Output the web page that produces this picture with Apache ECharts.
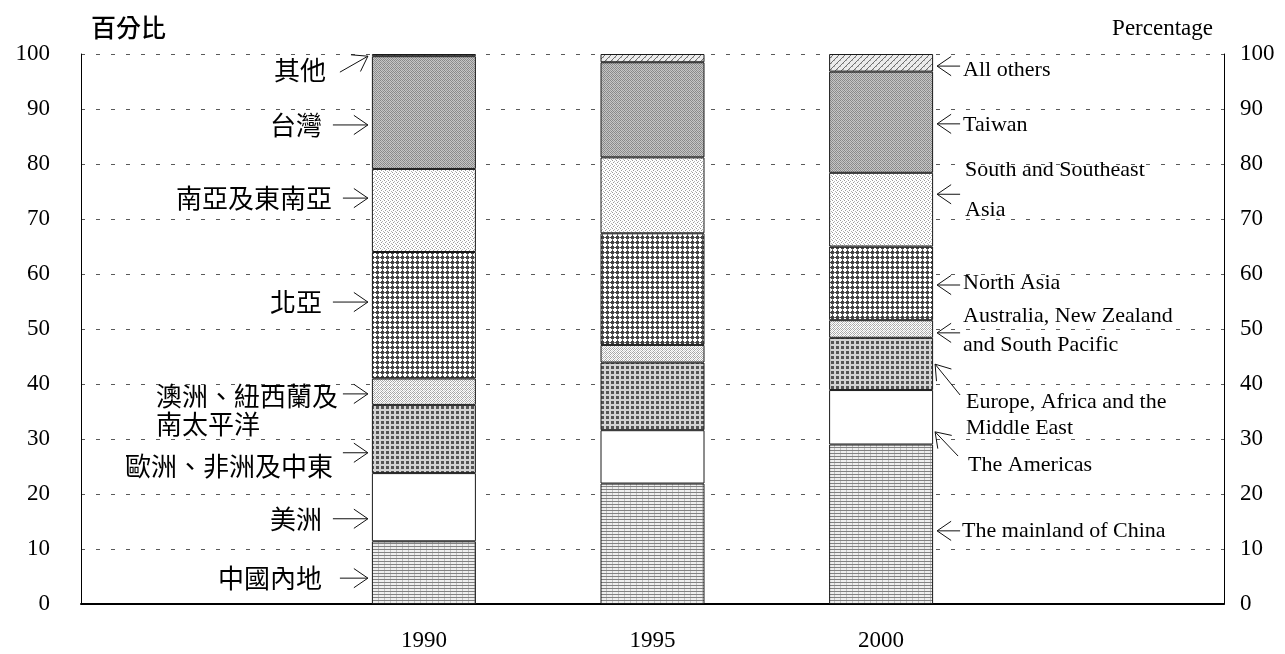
<!DOCTYPE html>
<html>
<head>
<meta charset="utf-8">
<script src="https://cdn.jsdelivr.net/npm/echarts@6/dist/echarts.min.js"></script>
<style>
html, body { margin: 0; padding: 0; background: #fff; }
#chart { width: 1285px; height: 654px; }
</style>
</head>
<body>
<div id="chart"></div>
<script>
// Share of total by region, per year (percent, stacked bottom to top)
const years = ['1990', '1995', '2000'];
const mainland  = [11.4, 21.9, 29.0];
const americas  = [12.4,  9.7,  9.9];
const europe    = [12.4, 12.3,  9.5];
const australia = [ 4.8,  3.2,  3.2];
const northAsia = [23.0, 20.3, 13.4];
const southAsia = [15.1, 13.8, 13.4];
const taiwan    = [20.5, 17.3, 18.4];
const others    = [ 0.4,  1.5,  3.2];

const yMin = 0, yMax = 100, yStep = 10;

const SERIF = 'Liberation Serif, Times New Roman, serif';
const CJK = 'Noto Sans CJK TC, Noto Sans CJK SC, sans-serif';

// Small canvas tiles used as monochrome fill patterns
function tile(w, h, draw) {
  const c = document.createElement('canvas');
  c.width = w; c.height = h;
  const g = c.getContext('2d');
  draw(g);
  return { image: c, repeat: 'repeat' };
}
function px(g, col, x, y, w, h) { g.fillStyle = col; g.fillRect(x, y, w || 1, h || 1); }

const fills = {
  mainland: tile(6, 3, g => {
    px(g, '#eeeeee', 0, 0, 6, 3);
    px(g, '#808080', 0, 0, 6, 1);
    px(g, '#c0c0c0', 0, 1, 1, 2);
  }),
  americas: '#ffffff',
  europe: tile(5, 5, g => {
    px(g, '#d4d4d4', 0, 0, 5, 5);
    px(g, '#555555', 1, 1, 3, 3);
  }),
  australia: tile(4, 4, g => {
    px(g, '#ffffff', 0, 0, 4, 4);
    px(g, '#a8a8a8', 0, 0); px(g, '#a8a8a8', 2, 0);
    px(g, '#a8a8a8', 1, 1); px(g, '#a8a8a8', 3, 1);
    px(g, '#d0d0d0', 0, 2); px(g, '#a8a8a8', 2, 2);
    px(g, '#a8a8a8', 1, 3); px(g, '#d0d0d0', 3, 3);
  }),
  northAsia: tile(5, 5, g => {
    px(g, '#ffffff', 0, 0, 5, 5);
    px(g, '#454545', 1, 1, 3, 3);
    px(g, '#454545', 2, 0); px(g, '#454545', 0, 2);
    px(g, '#7a7a7a', 4, 2); px(g, '#7a7a7a', 2, 4);
  }),
  southAsia: tile(4, 4, g => {
    px(g, '#ffffff', 0, 0, 4, 4);
    px(g, '#9a9a9a', 0, 0); px(g, '#b5b5b5', 2, 1);
    px(g, '#9a9a9a', 1, 2); px(g, '#b5b5b5', 3, 3);
  }),
  taiwan: tile(4, 4, g => {
    px(g, '#c6c6c6', 0, 0, 4, 4);
    px(g, '#888888', 0, 0); px(g, '#888888', 2, 0);
    px(g, '#9a9a9a', 1, 1); px(g, '#888888', 3, 1);
    px(g, '#888888', 0, 2); px(g, '#9a9a9a', 2, 2);
    px(g, '#888888', 1, 3); px(g, '#888888', 3, 3);
  }),
  others: tile(6, 6, g => {
    px(g, '#ececec', 0, 0, 6, 6);
    for (let i = 0; i < 6; i++) px(g, '#6f6f6f', i, 5 - i);
    px(g, '#b0b0b0', 0, 0); px(g, '#b0b0b0', 3, 3);
  })
};

const seriesDefs = [
  { name: '中國內地', values: mainland,  fill: fills.mainland },
  { name: '美洲',     values: americas,  fill: fills.americas },
  { name: '歐洲、非洲及中東', values: europe, fill: fills.europe },
  { name: '澳洲、紐西蘭及南太平洋', values: australia, fill: fills.australia },
  { name: '北亞',     values: northAsia, fill: fills.northAsia },
  { name: '南亞及東南亞', values: southAsia, fill: fills.southAsia },
  { name: '台灣',     values: taiwan,    fill: fills.taiwan },
  { name: '其他',     values: others,    fill: fills.others }
];

// Empty slots either side of the three years leave room for the call-outs
const categories = [''].concat(years, ['']);
const BAR_W = 104;

const option = {
  animation: false,
  backgroundColor: '#ffffff',
  grid: { left: 81, right: 61, top: 54, bottom: 50, outerBoundsMode: 'none' },
  xAxis: {
    type: 'category',
    data: categories,
    axisLine: { lineStyle: { color: '#000', width: 2 } },
    axisTick: { show: false },
    axisLabel: { color: '#000', fontFamily: SERIF, fontSize: 23, margin: 25 },
    splitLine: { show: false }
  },
  yAxis: [
    {
      type: 'value', min: yMin, max: yMax, interval: yStep,
      axisLine: { show: true, lineStyle: { color: '#000', width: 1 } },
      axisTick: { show: false },
      axisLabel: { color: '#000', fontFamily: SERIF, fontSize: 23, margin: 31 },
      splitLine: { show: true, lineStyle: { color: '#5a5a5a', width: 1, type: [4, 11] } }
    },
    {
      type: 'value', min: yMin, max: yMax, interval: yStep, position: 'right',
      axisLine: { show: true, lineStyle: { color: '#000', width: 1 } },
      axisTick: { show: false },
      axisLabel: { color: '#000', fontFamily: SERIF, fontSize: 23, margin: 16 },
      splitLine: { show: false }
    }
  ],
  series: seriesDefs.map(d => ({
    name: d.name,
    type: 'bar',
    stack: 'share',
    barWidth: BAR_W,
    data: [null].concat(d.values, [null]),
    itemStyle: { color: d.fill, borderColor: '#1a1a1a', borderWidth: 1 },
    emphasis: { disabled: true },
    silent: true
  }))
};

const chart = echarts.init(document.getElementById('chart'));
chart.setOption(option);

// Call-out layout: x offsets in pixels from the bar edge, y given in axis units
const leftNotes = [
  { lines: ['其他'], textX: -46, textY: [97.1], tail: [-32, 96.7], tip: [-4, 99.6] },
  { lines: ['台灣'], textX: -50, textY: [87.1], tail: [-39, 87.1], tip: [-4, 87.1] },
  { lines: ['南亞及東南亞'], textX: -40, textY: [73.8], tail: [-29, 73.8], tip: [-4, 73.8] },
  { lines: ['北亞'], textX: -50, textY: [54.9], tail: [-39, 54.9], tip: [-4, 54.9] },
  { lines: ['澳洲、紐西蘭及', '南太平洋'], textX: -34, textY: [37.8, 32.7], tail: [-29, 38.2], tip: [-4, 38.2], block: true },
  { lines: ['歐洲、非洲及中東'], textX: -39, textY: [25.1], tail: [-29, 27.5], tip: [-4, 27.5] },
  { lines: ['美洲'], textX: -50, textY: [15.5], tail: [-39, 15.5], tip: [-4, 15.5] },
  { lines: ['中國內地'], textX: -50, textY: [4.7], tail: [-32, 4.7], tip: [-4, 4.7] }
];
const rightNotes = [
  { lines: ['All others'], textX: 30, textY: [97.1], tail: [27, 97.8], tip: [4, 97.8] },
  { lines: ['Taiwan'], textX: 30, textY: [87.1], tail: [27, 87.3], tip: [4, 87.3] },
  { lines: ['South and Southeast', 'Asia'], textX: 32, textY: [78.9, 71.6], tail: [27, 74.5], tip: [4, 74.5] },
  { lines: ['North Asia'], textX: 30, textY: [58.4], tail: [27, 58.0], tip: [4, 58.0] },
  { lines: ['Australia, New Zealand', 'and South Pacific'], textX: 30, textY: [52.4, 47.1], tail: [27, 49.3], tip: [4, 49.3] },
  { lines: ['Europe, Africa and the', 'Middle East'], textX: 33, textY: [36.7, 32.0], tail: [27, 38.0], tip: [2, 43.6] },
  { lines: ['The Americas'], textX: 35, textY: [25.3], tail: [25, 26.9], tip: [2, 31.3] },
  { lines: ['The mainland of China'], textX: 29, textY: [13.3], tail: [27, 13.3], tip: [4, 13.3] }
];

const measureCtx = document.createElement('canvas').getContext('2d');
function textWidth(str, font) { measureCtx.font = font; return measureCtx.measureText(str).width; }

function arrowEls(x1, y1, x2, y2) {
  const a = Math.atan2(y2 - y1, x2 - x1);
  const arm = 17, spread = 0.6;
  const h1 = [x2 - arm * Math.cos(a + spread), y2 - arm * Math.sin(a + spread)];
  const h2 = [x2 - arm * Math.cos(a - spread), y2 - arm * Math.sin(a - spread)];
  const st = { stroke: '#111', lineWidth: 1, fill: null };
  return [
    { type: 'line', shape: { x1: x1, y1: y1, x2: x2, y2: y2 }, style: st, silent: true },
    { type: 'polyline', shape: { points: [h1, [x2, y2], h2] }, style: st, silent: true }
  ];
}

function buildNotes() {
  const yPx = v => chart.convertToPixel({ yAxisIndex: 0 }, v);
  const xPx = c => chart.convertToPixel({ xAxisIndex: 0 }, c);
  const leftEdge = xPx(years[0]) - BAR_W / 2;
  const rightEdge = xPx(years[years.length - 1]) + BAR_W / 2;
  const els = [];

  const cjkFont = '26px ' + CJK;
  leftNotes.forEach(n => {
    els.push(...arrowEls(leftEdge + n.tail[0], yPx(n.tail[1]), leftEdge + n.tip[0], yPx(n.tip[1])));
    const right = leftEdge + n.textX;
    const blockLeft = right - textWidth(n.lines[0], cjkFont);
    n.lines.forEach((t, i) => {
      els.push({
        type: 'text', silent: true,
        x: n.block ? blockLeft : right, y: yPx(n.textY[i]),
        style: { text: t, font: cjkFont, fill: '#000', align: n.block ? 'left' : 'right', verticalAlign: 'middle' }
      });
    });
  });

  const enFont = '22px ' + SERIF;
  rightNotes.forEach(n => {
    els.push(...arrowEls(rightEdge + n.tail[0], yPx(n.tail[1]), rightEdge + n.tip[0], yPx(n.tip[1])));
    n.lines.forEach((t, i) => {
      els.push({
        type: 'text', silent: true,
        x: rightEdge + n.textX, y: yPx(n.textY[i]),
        style: { text: t, font: enFont, fill: '#000', align: 'left', verticalAlign: 'middle' }
      });
    });
  });

  // Axis titles
  els.push({ type: 'text', silent: true, x: 91, y: 27,
    style: { text: '百分比', font: '500 25px ' + CJK, fill: '#000', align: 'left', verticalAlign: 'middle' } });
  els.push({ type: 'text', silent: true, x: 1213, y: 29,
    style: { text: 'Percentage', font: '23px ' + SERIF, fill: '#000', align: 'right', verticalAlign: 'middle' } });

  chart.setOption({ graphic: { elements: els } });
}
buildNotes();
</script>
</body>
</html>
